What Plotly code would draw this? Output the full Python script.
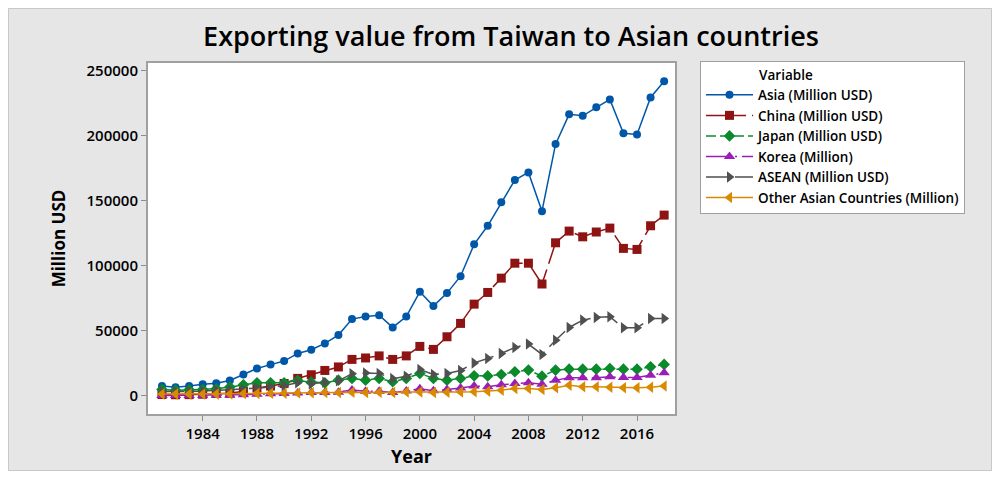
import plotly.graph_objects as go

years = list(range(1981, 2019))

asia = [7500, 6600, 7600, 8900, 9600, 11800, 16400, 21000, 24000, 26700,
        32600, 35400, 40300, 46700, 59000, 61000, 62000, 52600, 61000, 80000,
        69000, 79000, 92000, 116500, 130800, 148800, 166000, 171800, 142000, 193600,
        216500, 215400, 222000, 228000, 202000, 201000, 229500, 242000]

china = [1000, 800, 900, 1200, 1800, 2000, 3500, 6000, 7500, 9500,
         13400, 16200, 19500, 22200, 28000, 29100, 30700, 28000, 30700, 38000,
         35700, 45400, 55700, 70500, 79500, 90500, 102000, 102000, 86000, 117700,
         126700, 122300, 126000, 129000, 113400, 112600, 130800, 139000]

japan = [4900, 4300, 4600, 4800, 5400, 6700, 8500, 10000, 10000, 10000,
         11800, 10500, 10000, 12000, 13400, 12000, 13400, 10800, 13400, 17200,
         13400, 12000, 13400, 15400, 15300, 16400, 18500, 19800, 15100, 19800,
         20500, 20500, 20500, 21000, 20500, 20500, 22300, 24100]

korea = [300, 300, 300, 400, 400, 500, 800, 1200, 1500, 1800,
         2200, 2500, 2600, 2800, 4500, 3500, 3500, 2600, 3600, 5500,
         3800, 4800, 6000, 7500, 7000, 8500, 9500, 10000, 8800, 12000,
         13800, 13800, 13800, 14600, 14000, 14000, 15900, 17700]

asean = [3400, 3200, 3300, 3600, 4200, 4400, 4900, 5900, 6700, 8000,
         10000, 9300, 10500, 11500, 17000, 17500, 17200, 13200, 15000, 20200,
         16400, 17200, 19500, 25300, 28700, 32600, 37200, 39800, 31800, 42800,
         52600, 58200, 60300, 60800, 52300, 52300, 59500, 59500]

other = [1300, 1300, 1300, 1300, 1300, 1400, 1800, 1800, 2000, 2000,
         2200, 2300, 2500, 2500, 2800, 2600, 2800, 2500, 3000, 3000,
         2500, 2800, 3000, 3200, 3500, 4200, 5700, 5700, 4900, 6200,
         8200, 7000, 7000, 6600, 6200, 6200, 6600, 7500]

series_names = ["Asia (Million USD)", "China (Million USD)", "Japan (Million USD)",
                "Korea (Million)", "ASEAN (Million USD)", "Other Asian Countries (Million)"]
series_values = [asia, china, japan, korea, asean, other]

colors = ["#0057A8", "#8E1414", "#0A8A2A", "#9B1DB8", "#505050", "#D98A00"]
symbols = ["circle", "square", "diamond", "triangle-up", "triangle-right", "triangle-left"]
dashes = ["solid", "40px,6px", "10px,4px", "24px,5px,2px,5px", "22px,7px", "solid"]
sizes = [8, 9, 9, 10, 10, 10]

x_ticks = list(range(1984, 2017, 4))
y_ticks = list(range(0, 250001, 50000))

font_family = "Open Sans, Noto Sans, sans-serif"

fig = go.Figure()
for name, vals, c, s, d, sz in zip(series_names, series_values, colors, symbols, dashes, sizes):
    fig.add_trace(go.Scatter(
        x=years, y=vals, name=name, mode="lines+markers",
        line=dict(color=c, width=1.5, dash=d),
        marker=dict(color=c, symbol=s, size=sz),
    ))

# The page body keeps its default 8px margin, which reproduces the white
# frame around the grey panel in the reference. Coordinates below are in
# screen pixels; OFF converts them to figure pixels.
OFF = 8
W, H = 984, 463
L, R, T, B = 148 - OFF, W - (675 - OFF), 63 - OFF, H - (414 - OFF)
pw = W - L - R
ph = H - T - B

def px2paper_x(px):
    return (px - OFF - L) / pw

def px2paper_y(py):
    return (H - B - (py - OFF)) / ph

fig.update_layout(
    width=W, height=H,
    margin=dict(l=L, r=R, t=T, b=B, pad=0, autoexpand=False),
    paper_bgcolor="#E6E6E6",
    plot_bgcolor="white",
    font=dict(family=font_family, color="black"),
    title=dict(text="Exporting value from Taiwan to Asian countries",
               x=(511 - OFF) / W, xanchor="center", y=1 - (37 - OFF) / H, yanchor="middle",
               automargin=False,
               font=dict(size=27, family=font_family, color="black", weight=600)),
    xaxis=dict(range=[1979.97, 2018.8], tickvals=x_ticks, ticks="outside",
               ticklen=5, tickcolor="#8C8C8C", showgrid=False, zeroline=False,
               showline=True, linecolor="#A0A0A0", linewidth=2, mirror=True,
               automargin=False,
               tickfont=dict(size=15, color="black", weight=600),
               title=dict(text="Year", font=dict(size=18, weight=700), standoff=8)),
    yaxis=dict(range=[-14000, 256000], tickvals=y_ticks, tickformat="d",
               ticks="outside", ticklen=5, tickcolor="#8C8C8C", showgrid=False,
               zeroline=False, showline=True, linecolor="#A0A0A0", linewidth=2,
               mirror=True, automargin=False,
               tickfont=dict(size=15, color="black", weight=600),
               title=dict(text="Million USD", font=dict(size=17, weight=700), standoff=17)),
    legend=dict(x=px2paper_x(700), y=px2paper_y(61), xanchor="left", yanchor="top",
                bgcolor="white", bordercolor="#A0A0A0", borderwidth=1,
                font=dict(size=13.5, color="black", weight=600),
                title=dict(text="                Variable", font=dict(size=13.5, weight=600)),
                tracegroupgap=0, itemwidth=47),
    showlegend=True,
)

fig.add_shape(type="rect", xref="paper", yref="paper",
              x0=px2paper_x(OFF + 0.5), x1=px2paper_x(OFF + W - 0.5),
              y0=px2paper_y(OFF + H - 0.5), y1=px2paper_y(OFF + 0.5),
              line=dict(color="#C8C8C8", width=1), fillcolor="rgba(0,0,0,0)", layer="below")

fig.write_html("out.html")
